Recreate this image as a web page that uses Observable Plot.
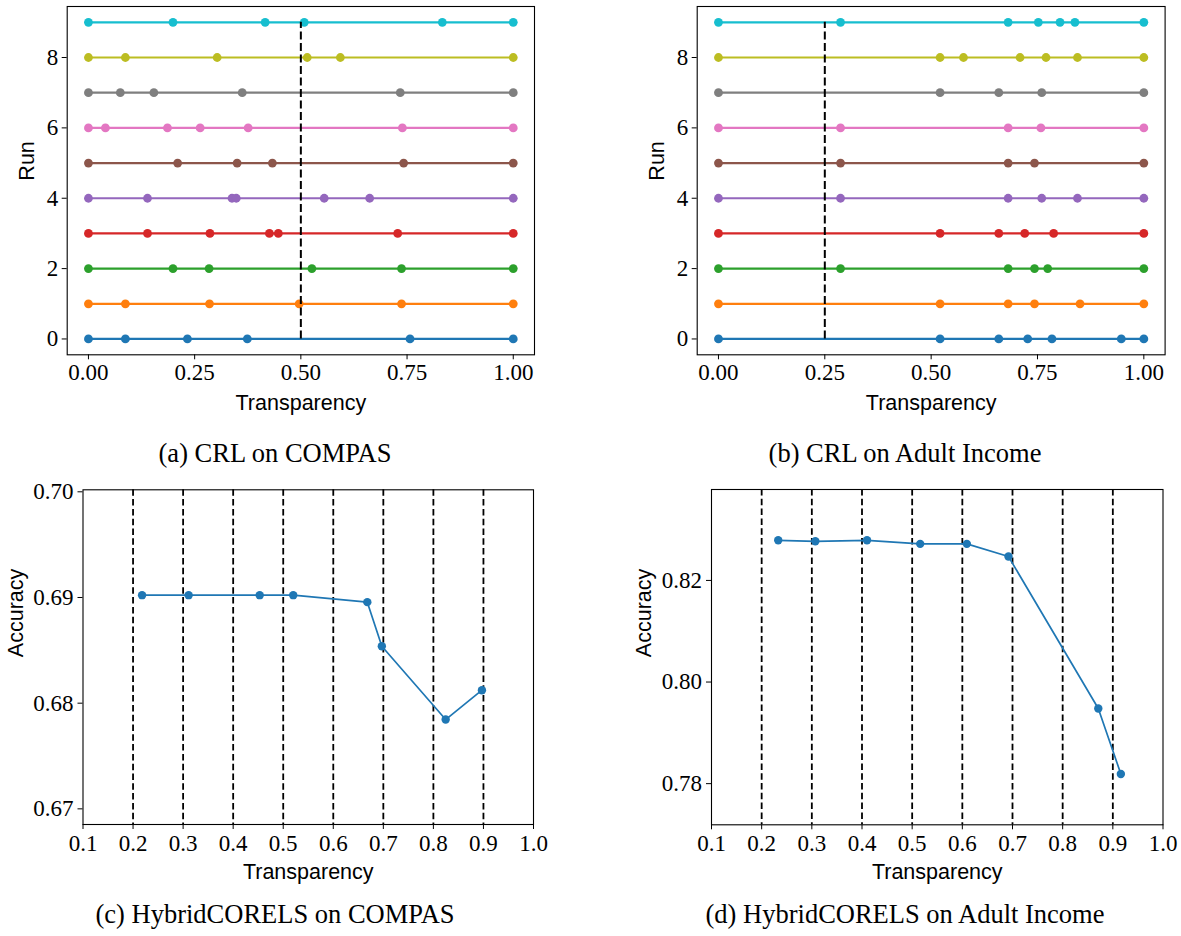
<!DOCTYPE html>
<html>
<head>
<meta charset="utf-8">
<script src="https://cdn.jsdelivr.net/npm/d3@7"></script>
<script src="https://cdn.jsdelivr.net/npm/@observablehq/plot@0.6"></script>
<style>
  html, body { margin: 0; padding: 0; background: #fff; }
  #root { position: relative; width: 1181px; height: 936px; overflow: hidden; background: #fff; }
  .panel { position: absolute; }
  .caption { position: absolute; font-family: "Liberation Serif", serif; font-size: 26.5px; line-height: 26.5px; text-align: center; color: #000; white-space: nowrap; }
</style>
</head>
<body>
<div id="root"></div>
<script>
// ---------- data ----------
const runs = [0, 1, 2, 3, 4, 5, 6, 7, 8, 9];
const tab10 = ["#1f77b4", "#ff7f0e", "#2ca02c", "#d62728", "#9467bd", "#8c564b", "#e377c2", "#7f7f7f", "#bcbd22", "#17becf"];

// (a) CRL on COMPAS: transparency values per run
const crlCompas = [
  [0, 0.087, 0.233, 0.374, 0.757, 1],
  [0, 0.087, 0.285, 0.496, 0.737, 1],
  [0, 0.199, 0.284, 0.526, 0.737, 1],
  [0, 0.139, 0.286, 0.426, 0.447, 0.728, 1],
  [0, 0.139, 0.338, 0.348, 0.555, 0.662, 1],
  [0, 0.210, 0.350, 0.433, 0.742, 1],
  [0, 0.040, 0.186, 0.263, 0.376, 0.739, 1],
  [0, 0.075, 0.154, 0.362, 0.734, 1],
  [0, 0.087, 0.303, 0.515, 0.593, 1],
  [0, 0.199, 0.416, 0.508, 0.833, 1]
];
const crlCompasThreshold = 0.5;

// (b) CRL on Adult Income
const crlAdult = [
  [0, 0.521, 0.659, 0.727, 0.784, 0.947, 1],
  [0, 0.521, 0.681, 0.743, 0.850, 1],
  [0, 0.287, 0.681, 0.743, 0.774, 1],
  [0, 0.521, 0.659, 0.720, 0.788, 1],
  [0, 0.287, 0.681, 0.760, 0.844, 1],
  [0, 0.287, 0.681, 0.743, 1],
  [0, 0.287, 0.681, 0.758, 1],
  [0, 0.521, 0.659, 0.760, 1],
  [0, 0.521, 0.576, 0.709, 0.770, 0.844, 1],
  [0, 0.287, 0.681, 0.752, 0.803, 0.838, 1]
];
const crlAdultThreshold = 0.25;

// (c) HybridCORELS on COMPAS
const hcCompasTransparency = [0.218, 0.311, 0.453, 0.520, 0.668, 0.697, 0.8245, 0.897];
const hcCompasAccuracy = [0.69022, 0.69022, 0.69022, 0.69022, 0.68956, 0.68539, 0.67845, 0.68123];

// (d) HybridCORELS on Adult Income
const hcAdultTransparency = [0.233, 0.307, 0.410, 0.516, 0.609, 0.692, 0.871, 0.916];
const hcAdultAccuracy = [0.8279, 0.8277, 0.8279, 0.8272, 0.8272, 0.8247, 0.7948, 0.7819];

// minimum transparency levels (dashed lines in c, d)
const minLevels = [0.2, 0.3, 0.4, 0.5, 0.6, 0.7, 0.8, 0.9];

// tick values
const crlXTicks = [0, 0.25, 0.5, 0.75, 1];
const runTicks = [0, 2, 4, 6, 8];
const hcXTicks = [0.1, 0.2, 0.3, 0.4, 0.5, 0.6, 0.7, 0.8, 0.9, 1.0];
const hcCompasYTicks = [0.67, 0.68, 0.69, 0.70];
const hcAdultYTicks = [0.78, 0.80, 0.82];

const captions = [
  "(a) CRL on COMPAS",
  "(b) CRL on Adult Income",
  "(c) HybridCORELS on COMPAS",
  "(d) HybridCORELS on Adult Income"
];

// ---------- drawing ----------
const SERIF = "Liberation Serif, serif";
const SANS = "Liberation Sans, Arial, sans-serif";
const TICK_FS = 23;
const LABEL_FS = 21.5;

function axes(xTicks, xFmt, yTicks, yFmt, padX, padY) {
  return [
    Plot.axisX({ticks: xTicks, tickFormat: d3.format(xFmt), tickSize: 5, tickPadding: padX,
      fontSize: TICK_FS, fontFamily: SERIF, label: null, stroke: "#000"}),
    Plot.axisY({ticks: yTicks, tickFormat: d3.format(yFmt), tickSize: 5, tickPadding: padY,
      fontSize: TICK_FS, fontFamily: SERIF, label: null, stroke: "#000"})
  ];
}

function labels(xLabel, xDy, yLabel, yDx) {
  return [
    Plot.text([xLabel], {text: d => d, frameAnchor: "bottom", dy: xDy, lineAnchor: "middle",
      fontSize: LABEL_FS, fontFamily: SANS, fill: "#000"}),
    Plot.text([yLabel], {text: d => d, frameAnchor: "left", dx: yDx, rotate: -90, lineAnchor: "middle",
      fontSize: LABEL_FS, fontFamily: SANS, fill: "#000"})
  ];
}

function crlPanel(data, threshold, m) {
  const rows = data.flatMap((xs, i) => xs.map(x => ({run: runs[i], x})));
  return Plot.plot({
    width: m.width, height: m.height,
    marginLeft: m.left, marginRight: m.right, marginTop: m.top, marginBottom: m.bottom,
    x: {domain: [-0.05, 1.05]},
    y: {domain: [-0.45, 9.45]},
    color: {type: "ordinal", domain: runs, range: tab10},
    style: {background: "white", overflow: "visible"},
    marks: [
      ...axes(crlXTicks, ".2f", runTicks, "d", 4, 4),
      Plot.line(rows, {x: "x", y: "run", z: "run", stroke: "run", strokeWidth: 2.2}),
      Plot.dot(rows, {x: "x", y: "run", fill: "run", r: 4.4}),
      Plot.ruleX([threshold], {y1: 0, y2: 9, stroke: "#000", strokeWidth: 2, strokeDasharray: "8,3.5"}),
      Plot.frame({stroke: "#000", strokeWidth: 1.1}),
      ...labels("Transparency", 48.7, "Run", -40)
    ]
  });
}

function hcPanel(xs, ys, yDomain, yTicks, m) {
  const rows = xs.map((x, i) => ({x, y: ys[i]}));
  return Plot.plot({
    width: m.width, height: m.height,
    marginLeft: m.left, marginRight: m.right, marginTop: m.top, marginBottom: m.bottom,
    x: {domain: [0.1, 1.0]},
    y: {domain: yDomain},
    style: {background: "white", overflow: "visible"},
    marks: [
      ...axes(hcXTicks, ".1f", yTicks, ".2f", 5, 4.5),
      Plot.ruleX(minLevels, {stroke: "#000", strokeWidth: 1.8, strokeDasharray: "6.5,3.3"}),
      Plot.line(rows, {x: "x", y: "y", stroke: "#1f77b4", strokeWidth: 1.7}),
      Plot.dot(rows, {x: "x", y: "y", fill: "#1f77b4", r: 4.2}),
      Plot.frame({stroke: "#000", strokeWidth: 1.1}),
      ...labels("Transparency", 47.4, "Accuracy", -67)
    ]
  });
}

const root = document.getElementById("root");
function place(node, left, top) {
  const d = document.createElement("div");
  d.className = "panel";
  d.style.left = left + "px";
  d.style.top = top + "px";
  d.appendChild(node);
  root.appendChild(d);
}
function caption(text, cx, top) {
  const d = document.createElement("div");
  d.className = "caption";
  d.style.left = (cx - 250) + "px";
  d.style.width = "500px";
  d.style.top = top + "px";
  d.textContent = text;
  root.appendChild(d);
}

place(crlPanel(crlCompas, crlCompasThreshold,
  {width: 580, height: 440, left: 66.7, right: 46, top: 6, bottom: 85.7}), 0, 0);
place(crlPanel(crlAdult, crlAdultThreshold,
  {width: 561, height: 440, left: 76.7, right: 16.4, top: 6, bottom: 85.7}), 620, 0);
place(hcPanel(hcCompasTransparency, hcCompasAccuracy, [0.66852, 0.70019], hcCompasYTicks,
  {width: 580, height: 430, left: 82.5, right: 47, top: 19.3, bottom: 76}), 0, 470);
place(hcPanel(hcAdultTransparency, hcAdultAccuracy, [0.7719, 0.8379], hcAdultYTicks,
  {width: 561, height: 430, left: 91, right: 18.5, top: 19, bottom: 75.7}), 620, 470);

caption(captions[0], 275, 440);
caption(captions[1], 905, 440);
caption(captions[2], 275, 901);
caption(captions[3], 905, 901);
</script>
</body>
</html>
